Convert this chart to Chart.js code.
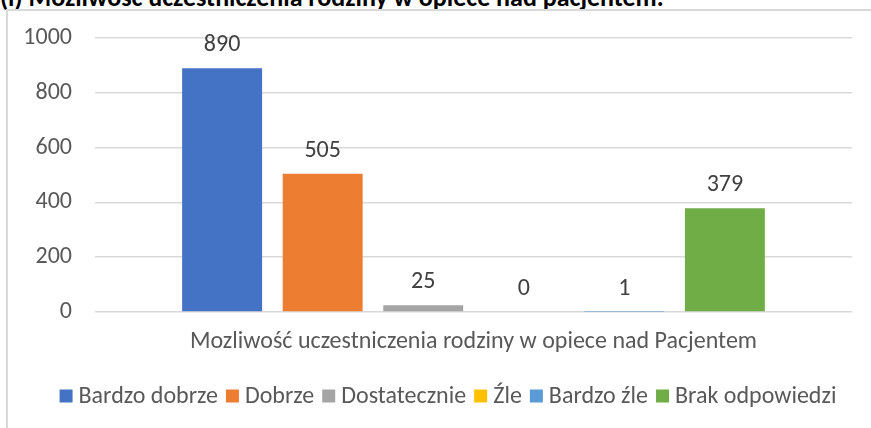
<!DOCTYPE html>
<html>
<head>
<meta charset="utf-8">
<script src="https://cdn.jsdelivr.net/npm/chart.js@4"></script>
<style>
  body { margin: 0; background: #fff; overflow: hidden; }
  #frame { position: absolute; left: 6px; top: 9px; width: 900px; height: 440px;
           border-left: 2px solid #d9d9d9; border-top: 2px solid #d9d9d9; background: #fff; }
  #caption { position: absolute; left: 0; top: -18px; font: bold 26px Carlito, Lato, sans-serif;
             color: #000; white-space: nowrap; line-height: 30px; }
  canvas { position: absolute; left: 0; top: 0; }
</style>
</head>
<body>
<div id="caption">(i) Możliwość uczestniczenia rodziny w opiece nad pacjentem.</div>
<div id="frame"></div>
<canvas id="chart" width="871" height="428"></canvas>
<script>
// chart data
const categories = ['Mozliwość uczestniczenia rodziny w opiece nad Pacjentem'];
const seriesNames = ['Bardzo dobrze', 'Dobrze', 'Dostatecznie', 'Źle', 'Bardzo źle', 'Brak odpowiedzi'];
const seriesValues = [890, 505, 25, 0, 1, 379];
const seriesColors = ['#4472C4', '#ED7D31', '#A5A5A5', '#FFC000', '#5B9BD5', '#70AD47'];
const yTicks = [0, 200, 400, 600, 800, 1000];

const FONT = 'Carlito, Lato, sans-serif';

// value labels above the bars
const valueLabels = {
    id: 'valueLabels',
    afterDatasetsDraw(chart) {
        const ctx = chart.ctx;
        ctx.save();
        ctx.font = '24px ' + FONT;
        ctx.fillStyle = '#404040';
        ctx.textAlign = 'center';
        ctx.textBaseline = 'alphabetic';
        chart.data.datasets.forEach((ds, i) => {
            const bar = chart.getDatasetMeta(i).data[0];
            ctx.fillText(ds.data[0], bar.x, bar.y - 17);
        });
        ctx.restore();
    }
};

// Excel style legend: small square, short gap, text
const bottomLegend = {
    id: 'bottomLegend',
    afterDraw(chart) {
        const ctx = chart.ctx;
        const box = 13, gap = 6, spacing = 8, centerX = 448, centerY = 396;
        ctx.save();
        ctx.font = '24px ' + FONT;
        ctx.textBaseline = 'middle';
        const items = chart.data.datasets.map(ds => ({ ds, w: ctx.measureText(ds.label).width }));
        const total = items.reduce((s, it) => s + box + gap + it.w, 0) + spacing * (items.length - 1);
        let x = centerX - total / 2;
        items.forEach(it => {
            ctx.fillStyle = it.ds.backgroundColor;
            ctx.fillRect(x, centerY - box / 2, box, box);
            x += box + gap;
            ctx.fillStyle = '#595959';
            ctx.fillText(it.ds.label, x, centerY + 1);
            x += it.w + spacing;
        });
        ctx.restore();
    }
};

new Chart(document.getElementById('chart'), {
    type: 'bar',
    data: {
        labels: categories,
        datasets: seriesNames.map((name, i) => ({
            label: name,
            data: [seriesValues[i]],
            backgroundColor: seriesColors[i],
            categoryPercentage: 0.797,
            barPercentage: 0.795
        }))
    },
    options: {
        responsive: false,
        animation: false,
        layout: { padding: { top: 38, right: 19, bottom: 0, left: 0 } },
        plugins: {
            legend: { display: false },
            tooltip: { enabled: false }
        },
        scales: {
            x: {
                grid: { display: false },
                border: { display: false },
                ticks: { color: '#595959', font: { family: FONT, size: 24 }, padding: 8 },
                afterFit(scale) { scale.height = 116; }
            },
            y: {
                min: 0,
                max: 1000,
                afterBuildTicks(scale) { scale.ticks = yTicks.map(v => ({ value: v })); },
                grid: { color: '#d9d9d9', lineWidth: 1.5, drawTicks: false },
                border: { display: false },
                ticks: {
                    color: '#595959',
                    font: { family: FONT, size: 24 },
                    padding: 23,
                    callback: v => String(v)
                },
                afterFit(scale) { scale.width = 95; }
            }
        }
    },
    plugins: [valueLabels, bottomLegend]
});
</script>
</body>
</html>
